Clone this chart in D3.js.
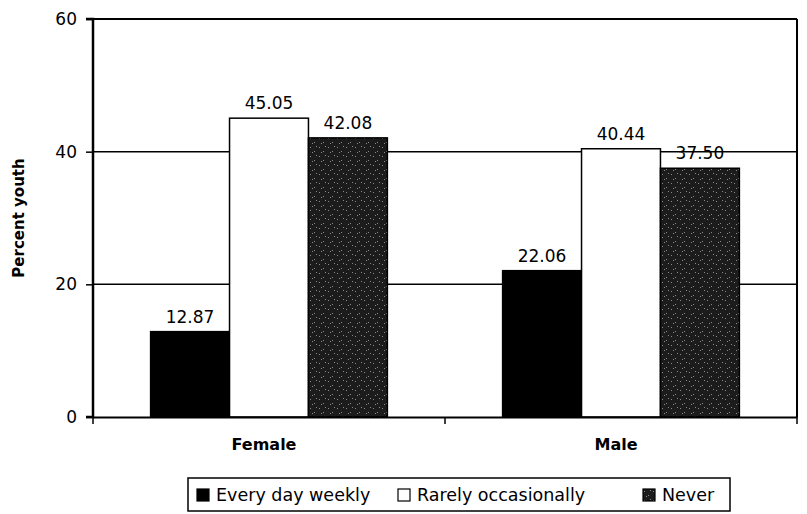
<!DOCTYPE html>
<html>
<head>
<meta charset="utf-8">
<script src="https://cdn.jsdelivr.net/npm/d3@7"></script>
<style>
  body { margin: 0; background: #fff; }
  svg text { font-family: "DejaVu Sans", Verdana, sans-serif; fill: #000; }
</style>
</head>
<body>
<div id="chart"></div>
<script>
// data
const categories = ["Female", "Male"];
const seriesNames = ["Every day weekly", "Rarely occasionally", "Never"];
const everyDay = [12.87, 22.06];
const rarely = [45.05, 40.44];
const never = [42.08, 37.50];
const yTicks = [0, 20, 40, 60];

const width = 807, height = 514;
const margin = { top: 19, right: 10, bottom: 97, left: 93 };
const plotW = width - margin.left - margin.right;
const plotH = height - margin.top - margin.bottom;

const values = [everyDay, rarely, never];
const rows = categories.map((c, i) => ({
  cat: c,
  vals: seriesNames.map((s, j) => ({ key: s, value: values[j][i] }))
}));

const svg = d3.select("#chart").append("svg")
  .attr("width", width).attr("height", height);

// stippled pattern for "Never"
const defs = svg.append("defs");
const pat = defs.append("pattern")
  .attr("id", "stipple").attr("patternUnits", "userSpaceOnUse")
  .attr("width", 9).attr("height", 9);
pat.append("rect").attr("width", 9).attr("height", 9).attr("fill", "#1c1c1c");
[[1, 2], [5, 6], [7, 1], [3, 7]].forEach(([px, py]) =>
  pat.append("rect").attr("x", px).attr("y", py).attr("width", 1).attr("height", 1).attr("fill", "#8a8a8a"));

const fills = { "Every day weekly": "#000", "Rarely occasionally": "#fff", "Never": "url(#stipple)" };

const g = svg.append("g").attr("transform", `translate(${margin.left},${margin.top})`);

const y = d3.scaleLinear().domain([0, 60]).range([plotH, 0]);
const x0 = d3.scaleBand().domain(categories).range([0, plotW]);
// bars ~79px wide inside a 352px band
const x1 = d3.scaleBand().domain(seriesNames).range([0, x0.bandwidth()]).paddingInner(0).paddingOuter(0.73);

// gridlines
g.selectAll(".grid").data(yTicks.filter(t => t > 0)).join("line")
  .attr("x1", 0).attr("x2", plotW)
  .attr("y1", d => y(d)).attr("y2", d => y(d))
  .attr("stroke", "#000").attr("stroke-width", d => d === 60 ? 2 : 1.5);

// right border
g.append("line").attr("x1", plotW).attr("x2", plotW).attr("y1", 0).attr("y2", plotH)
  .attr("stroke", "#000").attr("stroke-width", 2);

// bars
const grp = g.selectAll(".cat").data(rows).join("g")
  .attr("transform", d => `translate(${x0(d.cat)},0)`);

grp.selectAll("rect").data(d => d.vals).join("rect")
  .attr("x", d => x1(d.key))
  .attr("y", d => y(d.value))
  .attr("width", x1.bandwidth())
  .attr("height", d => plotH - y(d.value))
  .attr("fill", d => fills[d.key])
  .attr("stroke", "#000").attr("stroke-width", 1.5);

grp.selectAll(".lbl").data(d => d.vals).join("text")
  .attr("class", "lbl")
  .attr("x", d => x1(d.key) + x1.bandwidth() / 2)
  .attr("y", d => y(d.value) - 9)
  .attr("text-anchor", "middle")
  .attr("font-size", 17)
  .text(d => d.value.toFixed(2));

// y axis
const yAxis = g.append("g").call(d3.axisLeft(y).tickValues(yTicks).tickSize(7).tickPadding(9));
yAxis.select(".domain").attr("stroke-width", 2.5).attr("d", `M-7,0H0V${plotH}H-7`);
yAxis.selectAll(".tick line").attr("stroke-width", 1.5);
yAxis.selectAll("text").attr("font-size", 17).attr("font-family", "DejaVu Sans, sans-serif");

// x axis
const xAxis = g.append("g").attr("transform", `translate(0,${plotH})`)
  .call(d3.axisBottom(x0).tickSize(0).tickPadding(22));
xAxis.select(".domain").attr("stroke-width", 2);
xAxis.selectAll("text").attr("font-size", 16).attr("font-weight", "bold")
  .attr("font-family", "DejaVu Sans, sans-serif").attr("dx", -5);
xAxis.selectAll(".sep").data([0, 1, 2]).join("line").attr("class", "sep")
  .attr("x1", d => d * x0.bandwidth()).attr("x2", d => d * x0.bandwidth())
  .attr("y1", 0).attr("y2", 7).attr("stroke", "#000").attr("stroke-width", 1.5);

// y title
svg.append("text")
  .attr("transform", `translate(24,${margin.top + plotH / 2}) rotate(-90)`)
  .attr("text-anchor", "middle").attr("font-size", 15).attr("font-weight", "bold")
  .text("Percent youth");

// legend
const legend = svg.append("g").attr("transform", "translate(188,478)");
legend.append("rect").attr("width", 542).attr("height", 33)
  .attr("fill", "#fff").attr("stroke", "#000").attr("stroke-width", 1.5);
const legX = [9, 210, 455];
const items = legend.selectAll(".item").data(seriesNames).join("g")
  .attr("transform", (d, i) => `translate(${legX[i]},11)`);
items.append("rect").attr("width", 12).attr("height", 12)
  .attr("fill", d => fills[d]).attr("stroke", "#000").attr("stroke-width", 1.2);
items.append("text").attr("x", 19).attr("y", 12).attr("font-size", 17.5).text(d => d);
</script>
</body>
</html>
